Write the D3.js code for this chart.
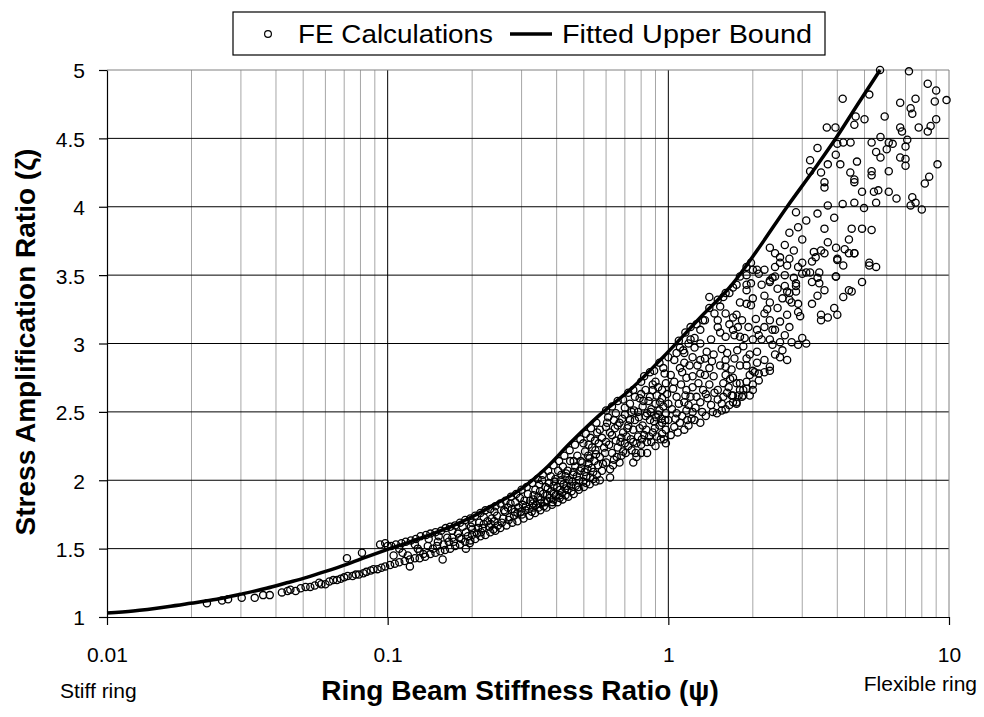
<!DOCTYPE html>
<html>
<head>
<meta charset="utf-8">
<script src="https://cdn.jsdelivr.net/npm/d3@7"></script>
<style>
	body { margin: 0; background: #fff; }
	text { font-family: "Liberation Sans", Arial, sans-serif; fill: #000; }
</style>
</head>
<body>
<svg id="chart" width="984" height="717"></svg>
<script>

// tick values and labels
const xTickValues = [0.01, 0.1, 1, 10];
const xTickLabels = ["0.01", "0.1", "1", "10"];
const yTickValues = [1, 1.5, 2, 2.5, 3, 3.5, 4, 4.5, 5];
const yTickLabels = ["1", "1.5", "2", "2.5", "3", "3.5", "4", "4.5", "5"];

// fitted upper bound (psi, zeta)
const fittedPsi = [0.01, 0.0124, 0.0164, 0.0198, 0.0246, 0.0298, 0.037, 0.0437, 0.0515, 0.0605, 0.0714, 0.0842,
	0.1, 0.12, 0.145, 0.172, 0.203, 0.239, 0.296, 0.363, 0.446, 0.571, 0.748, 0.957, 1.3, 1.7, 2.07, 2.65,
	3.3, 3.98, 4.8, 5.68];
const fittedZeta = [1.03, 1.044, 1.075, 1.10, 1.13, 1.166, 1.21, 1.25, 1.29, 1.335, 1.385, 1.44,
	1.495, 1.55, 1.61, 1.67, 1.74, 1.82, 1.93, 2.08, 2.27, 2.48, 2.68, 2.90, 3.19, 3.44, 3.68, 4.0,
	4.27, 4.51, 4.77, 5.0];

// FE calculations, stiff end (psi < 0.1)
const feStiff = [[0.0227,1.10],[0.0257,1.12],[0.027,1.13],[0.0302,1.14],[0.0336,1.14],[0.036,1.16],[0.038,1.16],
	[0.042,1.18],[0.044,1.19],[0.045,1.20],[0.047,1.19],[0.049,1.21],[0.051,1.22],[0.053,1.22],[0.055,1.23],
	[0.057,1.25],[0.058,1.24],[0.06,1.24],[0.062,1.26],[0.064,1.27],[0.066,1.27],[0.068,1.28],[0.07,1.29],
	[0.072,1.30],[0.075,1.30],[0.077,1.31],[0.079,1.31],[0.082,1.32],[0.084,1.33],[0.087,1.34],[0.089,1.35],
	[0.092,1.35],[0.095,1.36],[0.098,1.37],[0.0716,1.43],[0.081,1.47],[0.094,1.53],[0.098,1.54],[0.1,1.52]];

// FE calculations, 0.1 < psi < 0.57
const feMiddle = [[0.103,1.52],[0.107,1.53],[0.112,1.54],[0.116,1.55],[0.121,1.56],[0.126,1.57],[0.131,1.59],
	[0.137,1.60],[0.142,1.61],[0.148,1.62],[0.155,1.63],[0.161,1.65],[0.167,1.66],[0.174,1.67],[0.181,1.69],
	[0.189,1.71],[0.197,1.72],[0.205,1.74],[0.214,1.76],[0.223,1.78],[0.232,1.79],[0.242,1.81],
	[0.11,1.50],[0.125,1.53],[0.14,1.57],[0.152,1.59],[0.17,1.63],[0.185,1.66],[0.2,1.69],[0.22,1.73],[0.24,1.77],
	[0.102,1.38],[0.106,1.39],[0.11,1.40],[0.115,1.41],[0.12,1.42],[0.125,1.43],[0.13,1.43],[0.136,1.44],
	[0.142,1.46],[0.148,1.47],[0.154,1.48],[0.16,1.49],[0.167,1.50],[0.174,1.52],[0.181,1.53],[0.189,1.55],
	[0.197,1.56],[0.205,1.57],[0.214,1.59],[0.223,1.60],[0.232,1.62],[0.242,1.63],
	[0.12,1.37],[0.157,1.42],[0.19,1.50],[0.196,1.54],
	[0.13,1.48],[0.15,1.52],[0.165,1.55],[0.18,1.58],[0.19,1.62],[0.2,1.60],[0.21,1.65],[0.22,1.68],[0.23,1.66],
	[0.24,1.70],[0.17,1.58],[0.2,1.64],[0.215,1.62],[0.235,1.72],[0.245,1.74],
	[0.105,1.45],[0.113,1.47],[0.118,1.45],[0.128,1.50],[0.134,1.46],[0.139,1.52],[0.145,1.50],[0.151,1.55],
	[0.158,1.53],[0.163,1.58],[0.172,1.55],[0.178,1.61],[0.183,1.57],[0.193,1.59],[0.198,1.66],[0.208,1.61],
	[0.212,1.69],[0.218,1.65],[0.227,1.70],[0.233,1.68],[0.238,1.64],[0.247,1.67],
	[0.252,1.83],[0.263,1.85],[0.275,1.88],[0.287,1.90],[0.3,1.93],[0.313,1.95],[0.327,1.98],[0.342,2.01],
	[0.357,2.04],[0.373,2.07],[0.39,2.11],[0.408,2.14],[0.426,2.18],[0.445,2.22],[0.465,2.26],[0.486,2.30],
	[0.508,2.34],[0.53,2.38],[0.554,2.42],
	[0.252,1.65],[0.265,1.67],[0.278,1.69],[0.29,1.70],[0.305,1.72],[0.32,1.74],[0.335,1.76],[0.35,1.78],
	[0.368,1.80],[0.385,1.82],[0.403,1.84],[0.42,1.86],[0.44,1.88],[0.46,1.90],[0.48,1.93],[0.5,1.95],
	[0.525,1.97],[0.55,1.99],
	[0.258,1.72],[0.262,1.77],[0.268,1.80],[0.282,1.74],[0.277,1.79],[0.285,1.84],[0.298,1.77],[0.303,1.82],
	[0.296,1.87],[0.318,1.79],[0.322,1.85],[0.316,1.90],[0.338,1.82],[0.344,1.88],[0.336,1.93],[0.347,1.97],
	[0.362,1.84],[0.358,1.90],[0.365,1.95],[0.355,2.0],[0.378,1.87],[0.383,1.92],[0.376,1.98],[0.381,2.03],
	[0.397,1.89],[0.402,1.95],[0.396,2.01],[0.405,2.07],[0.418,1.91],[0.423,1.97],[0.416,2.04],[0.421,2.10],
	[0.437,1.93],[0.443,2.0],[0.438,2.07],[0.447,2.14],[0.468,1.96],[0.472,2.03],[0.466,2.10],[0.474,2.18],
	[0.497,1.99],[0.503,2.06],[0.494,2.13],[0.505,2.21],[0.498,2.27],[0.527,2.02],[0.533,2.09],[0.524,2.16],
	[0.535,2.24],[0.528,2.31],[0.556,2.04],[0.562,2.11],[0.553,2.19],[0.565,2.27],[0.558,2.35],
	[0.27,1.71],[0.29,1.76],[0.31,1.78],[0.33,1.80],[0.33,1.86],[0.35,1.83],[0.37,1.85],[0.39,1.86],[0.39,1.96],
	[0.41,1.89],[0.43,1.94],[0.45,1.96],[0.46,2.06],[0.48,2.0],[0.49,2.09],[0.51,2.03],[0.52,2.12],[0.54,2.06],
	[0.55,2.22],[0.46,2.14],[0.52,2.26],[0.43,2.03],
	[0.255,1.69],[0.26,1.78],[0.272,1.73],[0.274,1.83],[0.284,1.77],[0.292,1.80],[0.301,1.75],[0.307,1.85],
	[0.311,1.81],[0.326,1.77],[0.329,1.83],[0.331,1.89],[0.345,1.80],[0.352,1.86],[0.349,1.92],[0.36,1.81],
	[0.37,1.89],[0.372,1.94],[0.387,1.84],[0.391,1.90],[0.393,1.99],[0.41,1.87],[0.412,1.93],[0.414,2.0],
	[0.43,1.89],[0.434,1.96],[0.432,2.05],[0.452,1.92],[0.455,1.99],[0.458,2.04],[0.478,1.95],[0.483,2.07],
	[0.487,2.14],[0.51,1.98],[0.515,2.08],[0.518,2.18],[0.54,2.01],[0.545,2.14],[0.548,2.29]];

// FE calculations, 0.57 < psi < 2.2
const feUpper = [[0.57,2.37],[0.6,2.39],[0.63,2.33],[0.67,2.42],[0.69,2.35],[0.73,2.44],[0.75,2.37],[0.78,2.32],
	[0.81,2.40],[0.86,2.44],[0.88,2.35],[0.91,2.32],[0.95,2.42],[0.98,2.37],[0.84,2.28],[0.8,2.26],[0.75,2.28],
	[0.70,2.27],[0.65,2.29],[0.6,2.28],[0.61,2.46],[0.65,2.49],[0.57,2.17],[0.6,2.13],[0.63,2.2],[0.67,2.13],
	[0.69,2.21],[0.74,2.22],[0.77,2.17],[0.58,2.07],[0.62,2.02],[0.57,2.0],[0.75,2.13],[0.98,2.27],[0.81,2.54],
	[0.84,2.49],[0.79,2.6],[0.76,2.61],[0.73,2.56],[0.9,2.56],[0.86,2.61],[0.88,2.66],[0.93,2.51],[0.98,2.49],
	[0.95,2.6],[1.0,2.56],[0.98,2.71],[0.95,2.66],[1.0,2.90],[1.0,2.44],[1.02,2.33],
	[0.6,2.51],[0.66,2.58],[0.72,2.64],[0.8,2.72],[0.86,2.79],[0.93,2.86],
	[0.7,2.48],[0.78,2.5],[0.83,2.66],[0.9,2.72],[0.66,2.4],[0.71,2.32],[0.84,2.2],[0.9,2.25],[0.93,2.4],
	[0.59,2.24],[0.62,2.35],[0.64,2.44],[0.66,2.24],[0.68,2.31],[0.7,2.53],[0.72,2.40],[0.74,2.50],[0.76,2.44],
	[0.77,2.27],[0.79,2.38],[0.82,2.33],[0.83,2.47],[0.85,2.58],[0.87,2.52],[0.89,2.43],[0.91,2.62],[0.92,2.48],
	[0.94,2.30],[0.96,2.54],[0.97,2.78],[0.99,2.63],[0.62,2.08],[0.64,2.15],[0.68,2.18],[0.72,2.25],[0.8,2.2],
	[0.87,2.28],[0.95,2.34],[0.58,2.31],[0.63,2.54],[0.69,2.59],[0.75,2.66],[0.82,2.76],[0.89,2.80],[0.96,2.82],
	[0.88,2.70],[0.8,2.63],[0.92,2.68],
	[0.585,2.12],[0.595,2.2],[0.605,2.42],[0.615,2.26],[0.635,2.11],[0.645,2.38],[0.655,2.17],[0.675,2.28],
	[0.685,2.45],[0.705,2.2],[0.715,2.38],[0.735,2.3],[0.755,2.51],[0.765,2.2],[0.785,2.46],[0.805,2.3],
	[0.815,2.58],[0.835,2.37],[0.855,2.32],[0.865,2.5],[0.895,2.38],[0.905,2.46],[0.935,2.57],[0.945,2.45],
	[0.965,2.3],[0.975,2.44],
	[1.05,2.39],[1.1,2.42],[1.14,2.37],[1.17,2.44],[1.07,2.49],[1.16,2.51],[1.22,2.50],[1.04,2.67],[1.11,2.7],
	[1.16,2.66],[1.22,2.68],[1.26,2.61],[1.33,2.66],[1.4,2.70],[1.5,2.66],[1.57,2.71],[1.64,2.68],[1.75,2.71],
	[1.7,2.62],[1.8,2.66],[1.9,2.67],[1.07,2.61],[1.14,2.57],[1.2,2.61],[1.3,2.57],[1.38,2.60],[1.5,2.59],
	[1.57,2.61],[1.68,2.62],[1.7,2.57],[1.75,2.56],[1.83,2.61],[1.02,2.77],[1.05,2.72],[1.16,2.75],[1.22,2.76],
	[1.3,2.78],[1.35,2.77],[1.45,2.76],[1.6,2.77],[1.7,2.75],[1.8,2.71],[1.9,2.72],[1.68,2.81],[1.05,2.88],
	[1.1,2.82],[1.14,2.86],[1.22,2.90],[1.3,2.88],[1.35,2.89],[1.43,2.87],[1.4,2.82],[1.53,2.84],[1.6,2.83],
	[1.6,2.88],[1.72,2.89],[1.8,2.84],[1.9,2.84],[1.9,2.89],[2.07,2.86],[2.03,2.79],[2.1,2.78],[2.07,2.94],
	[1.2,3.03],[1.1,2.97],[1.13,2.95],[1.24,3.04],[1.24,2.97],[1.07,2.93],[1.14,2.93],[1.26,3.14],[1.3,3.1],
	[1.33,3.17],[1.5,3.17],[1.5,3.12],[1.53,3.08],[1.7,3.10],[1.72,3.06],[1.8,3.05],[1.87,3.04],[2.0,3.03],
	[2.07,3.10],[2.1,3.06],[2.15,3.03],[1.57,3.34],[1.65,3.37],[1.8,3.30],[1.9,3.29],[2.0,3.33],[1.97,3.28],
	[1.5,3.32],[1.4,3.34],[1.35,3.17],[1.4,3.26],[1.53,3.27],[1.75,3.21],[1.7,3.19],[1.83,3.17],
	[1.9,3.5],[1.75,3.43],[1.9,3.43],[2.15,3.43],[1.97,3.59],[2.07,3.54],[2.2,3.54],[2.2,3.22],[2.2,3.12],
	[2.2,2.79],[2.1,2.73],[1.3,2.42],[1.49,2.49],[1.6,2.52],[1.75,2.57],[2.0,2.7],
	[1.6,3.37],[1.7,3.41],[1.8,3.49],[1.9,3.56],[2.0,3.54],[1.97,3.44],[1.9,3.39],[2.1,3.51],
	[1.03,2.52],[1.06,2.45],[1.09,2.56],[1.12,2.47],[1.15,2.62],[1.18,2.55],[1.21,2.45],[1.25,2.53],[1.28,2.71],
	[1.32,2.50],[1.36,2.63],[1.42,2.55],[1.46,2.64],[1.55,2.56],[1.62,2.64],[1.66,2.74],[1.78,2.62],[1.85,2.66],
	[1.95,2.62],[1.12,2.79],[1.19,2.84],[1.27,2.84],[1.37,2.94],[1.45,2.92],[1.55,2.96],[1.62,2.93],[1.76,2.95],
	[1.85,2.98],[1.95,2.92],[1.18,3.0],[1.3,3.0],[1.42,3.03],[1.6,3.05],[1.65,3.14],[1.77,3.12],[1.93,3.12],
	[2.05,3.18],[1.6,3.22],[1.46,3.22],[1.15,3.08],[1.09,3.02],[1.2,3.12],[2.0,2.8],[1.95,2.77],
	[1.08,2.35],[1.18,2.40],[1.24,2.44],[1.36,2.47],[1.44,2.5],[1.55,2.51],[1.65,2.55],[1.85,2.62],[2.0,2.66]];

// FE calculations, flexible end (psi > 2.2)
const feFlexible = [[2.3,3.03],[2.35,2.99],[2.5,3.01],[2.6,3.06],[2.75,3.01],[2.9,2.99],[3.1,3.0],[3.0,3.04],
	[2.3,3.30],[2.65,3.38],[2.7,3.32],[2.75,3.30],[2.9,3.29],[2.85,3.38],[2.9,3.23],[2.3,3.17],[2.4,3.10],
	[2.5,3.16],[2.65,3.21],[2.7,3.12],[2.35,3.10],[2.3,3.45],[2.35,3.48],[2.4,3.49],[2.85,3.44],[2.5,3.59],
	[2.65,3.57],[2.5,3.63],[2.7,3.62],[2.3,2.83],[2.65,2.88],[2.3,2.8],[2.3,3.46],[2.4,3.56],
	[2.2,3.35],[2.25,3.25],[2.45,3.26],[2.55,3.33],[2.45,3.4],[2.6,3.5],[2.8,3.48],[2.4,3.66],[2.6,3.72],
	[2.8,3.68],[2.95,3.2],[2.55,2.95],[2.4,2.92],[2.2,2.88],[2.5,2.9],
	[2.3,3.70],[2.7,3.81],[2.9,3.85],[3.1,3.90],[2.85,3.96],[3.4,3.95],[3.9,3.92],[3.6,3.84],[4.5,3.84],
	[4.9,3.84],[5.3,3.83],[3.0,3.76],[3.0,3.59],[3.3,3.67],[3.35,3.63],[3.5,3.68],[3.7,3.74],[3.96,3.70],
	[4.0,3.62],[4.2,3.57],[4.25,3.69],[4.4,3.76],[4.6,3.66],[4.9,3.45],[3.96,3.49],[3.4,3.48],[3.45,3.44],
	[3.2,3.52],[2.9,3.56],[3.1,3.52],[5.2,3.57],[5.5,3.56],[4.4,3.39],[4.5,3.38],[4.2,3.34],[3.4,3.35],
	[2.6,3.42],[2.85,3.42],[2.7,3.37],[3.0,3.51],[3.45,3.52],[3.25,3.45],[3.6,3.39],[3.95,3.49],[3.25,3.29],
	[3.5,3.21],[3.5,3.17],[3.7,3.19],[3.9,3.26],[4.0,3.21],[3.6,3.66],[4.0,3.61],[4.4,3.66],[4.6,3.66],
	[3.25,3.6],[5.2,3.59],
	[5.68,5.0],[7.2,4.99],[8.4,4.9],[9.0,4.85],[9.8,4.78],[7.6,4.79],[6.7,4.76],[4.18,4.79],[5.2,4.82],
	[7.3,4.72],[8.9,4.77],[7.4,4.68],[9.0,4.64],[8.6,4.59],[8.4,4.55],[5.9,4.66],[5.0,4.64],[4.65,4.66],
	[4.6,4.6],[6.7,4.58],[6.8,4.55],[7.8,4.58],[3.67,4.58],[3.94,4.58],[5.7,4.51],[6.1,4.47],[7.1,4.49],
	[7.0,4.44],[5.3,4.47],[5.5,4.40],[5.7,4.36],[6.0,4.42],[6.3,4.46],[4.0,4.46],[4.2,4.47],[4.46,4.47],
	[3.4,4.43],[6.7,4.36],[7.0,4.35],[7.0,4.30],[9.1,4.31],[8.5,4.22],[8.2,4.17],[3.2,4.34],[3.95,4.38],
	[4.1,4.31],[3.7,4.31],[3.2,4.26],[3.5,4.25],[4.45,4.25],[4.7,4.33],[5.3,4.26],[5.3,4.23],[6.1,4.26],
	[4.6,4.2],[4.6,4.18],[3.6,4.18],[3.6,4.14],[5.6,4.12],[5.4,4.11],[5.5,4.03],[4.9,4.11],[6.1,4.11],
	[6.5,4.06],[7.4,4.07],[7.3,4.01],[8.0,3.98],[7.6,4.03],[3.7,4.01],[4.18,4.02],[4.6,4.03],[4.98,3.99]];

const feCalcs = feStiff.concat(feMiddle, feUpper, feFlexible);

// plot area
let plotLeft = 107, plotRight = 949, plotTop = 70, plotBottom = 617;

let svg = d3.select("#chart");

let x = d3.scaleLog().domain([0.01, 10]).range([plotLeft, plotRight]);
let y = d3.scaleLinear().domain([1, 5]).range([plotBottom, plotTop]);

// minor vertical grid (2..9 in each decade)
let minor = [];
[0.01, 0.1, 1].forEach((d) => {
	for (let k = 2; k <= 9; k++) minor.push(d * k);
});

svg.append("g")
	.selectAll("line")
	.data(minor)
	.enter()
	.append("line")
		.attr("x1", (d) => x(d)).attr("x2", (d) => x(d))
		.attr("y1", plotTop).attr("y2", plotBottom)
		.attr("stroke", "#a6a6a6")
		.attr("stroke-width", 1);

// major grid lines
svg.append("g")
	.selectAll("line")
	.data([0.1, 1])
	.enter()
	.append("line")
		.attr("x1", (d) => x(d)).attr("x2", (d) => x(d))
		.attr("y1", plotTop).attr("y2", plotBottom)
		.attr("stroke", "#000")
		.attr("stroke-width", 1);

svg.append("g")
	.selectAll("line")
	.data(yTickValues.slice(1, -1))
	.enter()
	.append("line")
		.attr("x1", plotLeft).attr("x2", plotRight)
		.attr("y1", (d) => y(d)).attr("y2", (d) => y(d))
		.attr("stroke", "#000")
		.attr("stroke-width", 1);

// plot border (top / right)
svg.append("path")
	.attr("d", `M${plotLeft},${plotTop}H${plotRight}V${plotBottom}`)
	.attr("fill", "none")
	.attr("stroke", "#808080")
	.attr("stroke-width", 1);

// axes
let xAxis = svg.append("g")
	.attr("transform", `translate(0,${plotBottom})`)
	.call(d3.axisBottom(x).tickValues(xTickValues).tickFormat((d, i) => xTickLabels[i]).tickSizeInner(8).tickSizeOuter(0));

xAxis.selectAll("text")
	.attr("y", 45)
	.attr("dy", 0)
	.style("font-size", "21px");

let yAxis = svg.append("g")
	.attr("transform", `translate(${plotLeft},0)`)
	.call(d3.axisLeft(y).tickValues(yTickValues).tickFormat((d, i) => yTickLabels[i]).tickSizeInner(8).tickSizeOuter(0));

yAxis.selectAll("text")
	.attr("x", -22)
	.attr("dy", "0.38em")
	.style("font-size", "21px");

svg.selectAll(".domain, .tick line").attr("stroke", "#000").attr("stroke-width", 1.2);

// FE points
svg.append("g")
	.selectAll("circle")
	.data(feCalcs)
	.enter()
	.append("circle")
		.attr("cx", (d) => x(d[0]))
		.attr("cy", (d) => y(d[1]))
		.attr("r", 3.6)
		.attr("fill", "none")
		.attr("stroke", "#000")
		.attr("stroke-width", 1.3);

// fitted upper bound
let line = d3.line()
	.x((d, i) => x(fittedPsi[i]))
	.y((d, i) => y(fittedZeta[i]))
	.curve(d3.curveMonotoneX);

svg.append("path")
	.datum(fittedPsi)
	.attr("d", line)
	.attr("fill", "none")
	.attr("stroke", "#000")
	.attr("stroke-width", 3.5)
	.attr("stroke-linejoin", "round");

// axis titles
svg.append("text")
	.attr("transform", "translate(35,342) rotate(-90)")
	.attr("text-anchor", "middle")
	.style("font-size", "28px")
	.style("font-weight", "bold")
	.text("Stress Amplification Ratio (ζ)");

svg.append("text")
	.attr("x", 520)
	.attr("y", 700)
	.attr("text-anchor", "middle")
	.style("font-size", "28px")
	.style("font-weight", "bold")
	.text("Ring Beam Stiffness Ratio (ψ)");

svg.append("text")
	.attr("x", 60)
	.attr("y", 698)
	.style("font-size", "21px")
	.text("Stiff ring");

svg.append("text")
	.attr("x", 977)
	.attr("y", 691)
	.attr("text-anchor", "end")
	.style("font-size", "21px")
	.text("Flexible ring");

// legend
let legend = svg.append("g");

legend.append("rect")
	.attr("x", 233).attr("y", 12)
	.attr("width", 592).attr("height", 43)
	.attr("fill", "#fff")
	.attr("stroke", "#000")
	.attr("stroke-width", 1.2);

legend.append("circle")
	.attr("cx", 268).attr("cy", 34)
	.attr("r", 3.4)
	.attr("fill", "none")
	.attr("stroke", "#000")
	.attr("stroke-width", 1.2);

legend.append("text")
	.attr("x", 298).attr("y", 43)
	.style("font-size", "26px")
	.attr("textLength", 195)
	.attr("lengthAdjust", "spacingAndGlyphs")
	.text("FE Calculations");

legend.append("line")
	.attr("x1", 510).attr("x2", 552)
	.attr("y1", 34).attr("y2", 34)
	.attr("stroke", "#000")
	.attr("stroke-width", 3.5);

legend.append("text")
	.attr("x", 562).attr("y", 43)
	.style("font-size", "26px")
	.attr("textLength", 250)
	.attr("lengthAdjust", "spacingAndGlyphs")
	.text("Fitted Upper Bound");

</script>
</body>
</html>
